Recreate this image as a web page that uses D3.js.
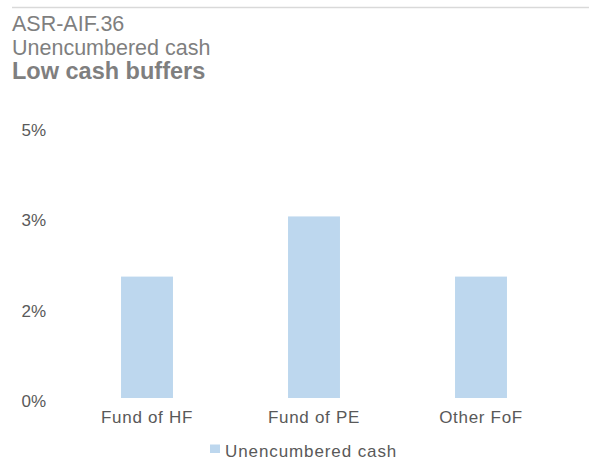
<!DOCTYPE html>
<html lang="en">
<head>
<meta charset="UTF-8">
<title>Unencumbered cash</title>
<style>
  body { margin: 0; background: #fff; }
  svg { font-family: "Liberation Sans", Arial, sans-serif; }
</style>
</head>
<body>
<svg id="chart" width="589" height="461"></svg>
<script src="https://d3js.org/d3.v7.min.js"></script>
<script>
// data
const categories = ["Fund of HF", "Fund of PE", "Other FoF"];
const cashValues = [2.24, 3.35, 2.24];
const tickValues = [0, 5 / 3, 10 / 3, 5];
const seriesName = "Unencumbered cash";

const svg = d3.select("#chart");
const barColor = "#bdd7ee";
const labelColor = "#595959";
const fontFam = "Liberation Sans, Arial, sans-serif";

// header
svg.append("line")
  .attr("x1", 12).attr("x2", 589).attr("y1", 7.5).attr("y2", 7.5)
  .attr("stroke", "#d9d9d9").attr("stroke-width", 1.5);

const head = [
  { t: "ASR-AIF.36", y: 30.5, w: "normal", s: 21.5 },
  { t: "Unencumbered cash", y: 55, w: "normal", s: 21.5 },
  { t: "Low cash buffers", y: 79, w: "bold", s: 23.5 }
];
svg.selectAll("text.head").data(head).join("text")
  .attr("class", "head")
  .attr("x", 12).attr("y", d => d.y)
  .attr("font-size", d => d.s)
  .attr("font-weight", d => d.w)
  .attr("fill", "#7f7f7f")
  .text(d => d.t);

// scales
const x = d3.scaleBand()
  .domain(categories)
  .range([63.5, 564.5])
  .paddingInner(0.689)
  .paddingOuter(0.3445);

const y = d3.scaleLinear().domain([0, 5]).range([398, 127]);

// y axis (labels only)
const yAxis = d3.axisLeft(y)
  .tickValues(tickValues)
  .tickFormat(d => Math.round(d) + "%")
  .tickSize(0).tickPadding(0);
const gy = svg.append("g").attr("transform", "translate(46,3)").call(yAxis);
gy.select(".domain").remove();
gy.selectAll("text")
  .attr("font-size", 17)
  .attr("fill", labelColor)
  .attr("font-family", fontFam);

// bars
svg.selectAll("rect.bar").data(cashValues).join("rect")
  .attr("class", "bar")
  .attr("x", (d, i) => x(categories[i]))
  .attr("width", x.bandwidth())
  .attr("y", d => y(d))
  .attr("height", d => y(0) - y(d))
  .attr("fill", barColor);

// x axis (labels only)
const xAxis = d3.axisBottom(x).tickSize(0).tickPadding(0);
const gx = svg.append("g").attr("transform", "translate(0,422.7)").call(xAxis);
gx.select(".domain").remove();
gx.selectAll("text")
  .attr("dy", 0)
  .attr("font-size", 17)
  .attr("letter-spacing", 0.7)
  .attr("fill", labelColor)
  .attr("font-family", fontFam);

// legend (nudged up a little so the text is not clipped by the bottom edge)
const lg = svg.append("g").attr("transform", "translate(210,444.5)");
lg.append("rect").attr("width", 10).attr("height", 8.5).attr("fill", barColor);
lg.append("text")
  .attr("x", 15).attr("y", 12.8)
  .attr("font-size", 17)
  .attr("letter-spacing", 0.9)
  .attr("fill", labelColor)
  .text(seriesName);
</script>
</body>
</html>
